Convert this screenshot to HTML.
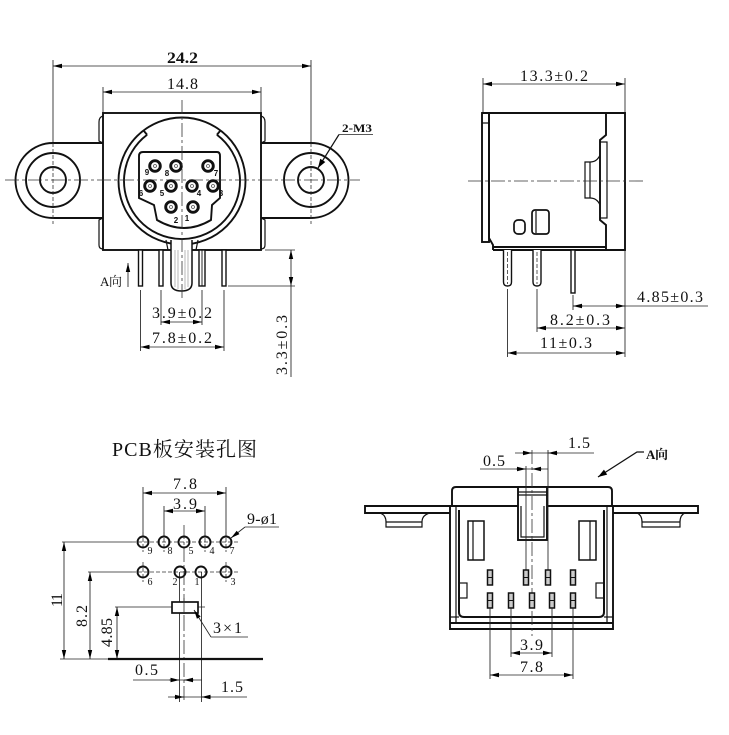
<!DOCTYPE html>
<html><head><meta charset="utf-8"><style>
html,body{margin:0;padding:0;background:#fff;}
svg{display:block;}
.o{fill:none;stroke:#111;stroke-width:1.9;}
.t1{fill:none;stroke:#111;stroke-width:1.2;}
.d{fill:none;stroke:#222;stroke-width:0.85;}
.c{fill:none;stroke:#333;stroke-width:0.8;stroke-dasharray:14 3 3 3;}
.s{fill:none;stroke:#333;stroke-width:0.8;stroke-dasharray:4 2;}
text{font-family:"Liberation Serif","Noto Serif CJK SC",serif;font-size:16px;fill:#111;}
.b{font-weight:bold;}
.pn{font-family:"Liberation Sans",sans-serif;font-size:8px;font-weight:bold;text-anchor:middle;}
.hn{font-size:10px;text-anchor:middle;}
</style></head><body>
<svg width="729" height="735" viewBox="0 0 729 735" xmlns="http://www.w3.org/2000/svg">
<defs>
<marker id="a" viewBox="-10 -3 10 6" refX="0" refY="0" markerWidth="10" markerHeight="6" markerUnits="userSpaceOnUse" orient="auto-start-reverse"><path d="M0,0 L-9,-2.2 L-9,2.2 z" fill="#000"/></marker>
<marker id="b" viewBox="-10 -4 10 8" refX="0" refY="0" markerWidth="10" markerHeight="8" markerUnits="userSpaceOnUse" orient="auto"><path d="M0,0 L-9,-3 L-9,3 z" fill="#000"/></marker>
</defs>

<!-- ================= TOP-LEFT VIEW ================= -->
<line class="d" x1="53" y1="60" x2="53" y2="143"/>
<line class="d" x1="311" y1="60" x2="311" y2="143"/>
<line class="d" x1="53" y1="66" x2="311" y2="66" marker-start="url(#a)" marker-end="url(#a)"/>
<text x="167" y="63" class="b" textLength="31" lengthAdjust="spacingAndGlyphs">24.2</text>
<line class="d" x1="103" y1="87" x2="103" y2="113"/>
<line class="d" x1="261" y1="87" x2="261" y2="113"/>
<line class="d" x1="103" y1="92" x2="261" y2="92" marker-start="url(#a)" marker-end="url(#a)"/>
<text x="167" y="89" textLength="31">14.8</text>

<g class="o">
<path d="M103,143 L53,143 A37.5,37.5 0 0 0 53,218 L103,218"/>
<path d="M261,143 L311,143 A37.5,37.5 0 0 1 311,218 L261,218"/>
<circle cx="53" cy="180" r="27"/><circle cx="53" cy="180" r="13"/>
<circle cx="311" cy="180" r="27"/><circle cx="311" cy="180" r="13"/>
<rect x="103" y="113" width="158" height="137"/>
<circle cx="182" cy="181" r="63.5"/>
<path d="M147.1,134.7 A58,58 0 1 0 216.9,134.7"/>
<path d="M147.1,134.7 L143.5,130.5 M216.9,134.7 L220.5,130.5"/>
<path d="M143,152 L217,152 Q220,152 220,156 L220,198 L212,205 L211,220 Q184,236 157,220 L154,205 L139,198 L139,156 Q139,152 143,152 Z"/>
</g>
<g class="t1">
<path d="M103,116 Q99,117 99,122 L99,141 L103,143"/>
<path d="M103,218 L99,220 L99,245 Q99,249 103,249"/>
<path d="M261,116 Q265,117 265,122 L265,141 L261,143"/>
<path d="M261,218 L265,220 L265,245 Q265,249 261,249"/>
</g>
<line class="c" x1="5" y1="180" x2="360" y2="180"/>
<line class="s" x1="53" y1="143" x2="53" y2="224"/>
<line class="s" x1="311" y1="143" x2="311" y2="224"/>

<!-- pins of face -->
<g fill="#fff" stroke="#111" stroke-width="2.9">
<circle cx="155" cy="166" r="5.3"/><circle cx="176" cy="166" r="5.3"/><circle cx="208" cy="166" r="5.3"/>
<circle cx="150" cy="186" r="5.3"/><circle cx="171" cy="186" r="5.3"/><circle cx="192" cy="186" r="5.3"/><circle cx="213" cy="186" r="5.3"/>
<circle cx="171" cy="207" r="5.3"/><circle cx="193" cy="207" r="5.3"/>
</g>
<g fill="none" stroke="#555" stroke-width="0.8">
<circle cx="155" cy="166" r="1.5"/><circle cx="176" cy="166" r="1.5"/><circle cx="208" cy="166" r="1.5"/>
<circle cx="150" cy="186" r="1.5"/><circle cx="171" cy="186" r="1.5"/><circle cx="192" cy="186" r="1.5"/><circle cx="213" cy="186" r="1.5"/>
<circle cx="171" cy="207" r="1.5"/><circle cx="193" cy="207" r="1.5"/>
</g>
<text class="pn" x="147" y="175">9</text><text class="pn" x="167" y="176">8</text><text class="pn" x="216" y="176">7</text>
<text class="pn" x="141" y="196">6</text><text class="pn" x="162" y="196">5</text><text class="pn" x="199" y="196">4</text><text class="pn" x="221" y="196">3</text>
<text class="pn" x="176" y="223">2</text><text class="pn" x="187" y="221">1</text>

<!-- post and pins -->
<path d="M171,240 L171,283 Q171,291 181.5,291 Q192,291 192,283 L192,240" fill="#fff" stroke="#111" stroke-width="1.5"/>
<path class="t1" d="M166,240 L168,250 M198,240 L196,250"/>
<g stroke="#888" stroke-width="0.6"><line x1="175" y1="250" x2="175" y2="287"/><line x1="178" y1="250" x2="178" y2="289"/><line x1="185" y1="250" x2="185" y2="289"/><line x1="188" y1="250" x2="188" y2="287"/></g>
<line class="c" x1="182" y1="100" x2="182" y2="300"/>
<g fill="#fff" stroke="#111" stroke-width="1.4">
<rect x="138.5" y="250" width="4" height="36"/>
<rect x="159" y="250" width="4" height="36"/>
<rect x="199" y="250" width="6" height="36"/>
<rect x="222" y="250" width="4" height="36"/>
</g>
<line x1="202" y1="250" x2="202" y2="286" stroke="#111" stroke-width="0.9"/>

<!-- A dir arrow -->
<text x="100" y="286" style="font-size:13px" textLength="22">A向</text>
<line class="d" x1="128" y1="287" x2="128" y2="263" marker-end="url(#a)"/>

<!-- bottom dims -->
<line class="d" x1="140.5" y1="290" x2="140.5" y2="351"/>
<line class="d" x1="224" y1="290" x2="224" y2="351"/>
<line class="d" x1="161" y1="290" x2="161" y2="325"/>
<line class="d" x1="202" y1="290" x2="202" y2="325"/>
<line class="d" x1="161" y1="322" x2="202" y2="322" marker-start="url(#a)" marker-end="url(#a)"/>
<line class="d" x1="140.5" y1="347" x2="224" y2="347" marker-start="url(#a)" marker-end="url(#a)"/>
<text x="152" y="318" textLength="60">3.9±0.2</text>
<text x="152" y="343" textLength="60">7.8±0.2</text>

<line class="d" x1="265" y1="250" x2="295" y2="250"/>
<line class="d" x1="228" y1="286" x2="295" y2="286"/>
<line class="d" x1="291" y1="250" x2="291" y2="286" marker-start="url(#a)" marker-end="url(#a)"/>
<line class="d" x1="291" y1="286" x2="291" y2="377"/>
<text transform="translate(287,375) rotate(-90)" textLength="60">3.3±0.3</text>

<!-- 2-M3 -->
<text x="342" y="132" class="b" style="font-size:12px" textLength="30" lengthAdjust="spacingAndGlyphs">2-M3</text>
<line class="d" x1="339" y1="134.5" x2="373" y2="134.5"/>
<line x1="339" y1="134.5" x2="318" y2="168" stroke="#111" stroke-width="1.2" marker-end="url(#b)"/>

<!-- ================= TOP-RIGHT VIEW ================= -->
<line class="d" x1="483" y1="78" x2="483" y2="113"/>
<line class="d" x1="625" y1="78" x2="625" y2="113"/>
<line class="d" x1="483" y1="84" x2="625" y2="84" marker-start="url(#a)" marker-end="url(#a)"/>
<text x="520" y="81" textLength="68">13.3±0.2</text>

<g class="o">
<path d="M482,113 L625,113 L625,250 L493,250"/>
<rect x="482" y="113" width="7" height="129"/>
<path d="M489,113 L489,238 L493,245 L493,250"/>
<line x1="493" y1="247" x2="606" y2="247"/>
<path d="M606,113 L606,135 L600,140 L600,220 L606,225 L606,250"/>
</g>
<g class="t1">
<line x1="482" y1="123" x2="489" y2="123"/>
<rect x="600" y="142" width="7" height="76"/>
<path d="M600,155 Q597,162 590,162 L585,162 L585,198 L590,198 Q597,198 600,205"/>
<line x1="590" y1="162" x2="590" y2="198"/>
<rect x="532" y="210" width="17" height="24" rx="3" stroke-width="1.7"/>
<line x1="536" y1="211" x2="536" y2="233"/>
<rect x="514" y="220" width="11" height="14" rx="4" stroke-width="1.7"/>
</g>
<line class="c" x1="468" y1="181" x2="643" y2="181"/>
<g fill="#fff" stroke="#111" stroke-width="1.4">
<path d="M503.5,250 L503.5,282 Q503.5,286 507.5,286 Q511.5,286 511.5,282 L511.5,250"/>
<path d="M533,250 L533,282 Q533,286 537,286 Q541,286 541,282 L541,250"/>
<rect x="571" y="250" width="4" height="43"/>
</g>
<line class="s" x1="507.5" y1="252" x2="507.5" y2="284"/>
<line class="s" x1="537" y1="252" x2="537" y2="284"/>
<line class="d" x1="625" y1="250" x2="625" y2="357"/>
<line class="d" x1="573" y1="295" x2="573" y2="310"/>
<line class="d" x1="537" y1="289" x2="537" y2="332"/>
<line class="d" x1="507.5" y1="289" x2="507.5" y2="357"/>
<line class="d" x1="573" y1="306" x2="708" y2="306"/>
<path class="d" d="M583,306 L573,306" marker-end="url(#a)"/>
<path class="d" d="M615,306 L625,306" marker-end="url(#a)"/>
<text x="637" y="302" textLength="66">4.85±0.3</text>
<line class="d" x1="537" y1="328" x2="625" y2="328" marker-start="url(#a)" marker-end="url(#a)"/>
<text x="550" y="325" textLength="60">8.2±0.3</text>
<line class="d" x1="507.5" y1="353" x2="625" y2="353" marker-start="url(#a)" marker-end="url(#a)"/>
<text x="540" y="348" textLength="52">11±0.3</text>

<!-- ================= PCB VIEW ================= -->
<text x="112" y="456" style="font-size:20px" textLength="145">PCB板安装孔图</text>
<line class="d" x1="143" y1="487" x2="143" y2="536"/>
<line class="d" x1="226" y1="487" x2="226" y2="536"/>
<line class="d" x1="164" y1="506" x2="164" y2="536"/>
<line class="d" x1="205" y1="506" x2="205" y2="536"/>
<line class="d" x1="143" y1="493" x2="226" y2="493" marker-start="url(#a)" marker-end="url(#a)"/>
<line class="d" x1="164" y1="511" x2="205" y2="511" marker-start="url(#a)" marker-end="url(#a)"/>
<text x="173" y="489" textLength="24">7.8</text>
<text x="173" y="509" textLength="24">3.9</text>

<line class="d" x1="62" y1="542" x2="132" y2="542"/>
<line class="s" x1="132" y1="542" x2="240" y2="542"/>
<line class="d" x1="88" y1="572" x2="132" y2="572"/>
<line class="s" x1="132" y1="572" x2="240" y2="572"/>
<g class="s">
<line x1="143" y1="532" x2="143" y2="552"/><line x1="164" y1="532" x2="164" y2="552"/><line x1="205" y1="532" x2="205" y2="552"/><line x1="226" y1="532" x2="226" y2="552"/>
<line x1="143" y1="562" x2="143" y2="582"/><line x1="226" y1="562" x2="226" y2="582"/>
</g>
<line class="c" x1="184" y1="525" x2="184" y2="702"/>
<line class="d" x1="179.5" y1="572" x2="179.5" y2="702"/>
<line class="d" x1="201.5" y1="572" x2="201.5" y2="702"/>
<g fill="none" stroke="#111" stroke-width="1.9">
<circle cx="143" cy="542" r="5.5"/><circle cx="164" cy="542" r="5.5"/><circle cx="184" cy="542" r="5.5"/><circle cx="205" cy="542" r="5.5"/><circle cx="226" cy="542" r="5.5"/>
<circle cx="143" cy="572" r="5.5"/><circle cx="180" cy="572" r="5.5"/><circle cx="201" cy="572" r="5.5"/><circle cx="226" cy="572" r="5.5"/>
</g>
<text class="hn" x="150" y="554">9</text><text class="hn" x="170" y="554">8</text><text class="hn" x="191" y="554">5</text><text class="hn" x="212" y="554">4</text><text class="hn" x="232" y="554">7</text>
<text class="hn" x="150" y="585">6</text><text class="hn" x="175" y="585">2</text><text class="hn" x="197" y="585">1</text><text class="hn" x="233" y="585">3</text>

<text x="247" y="524" textLength="30">9-ø1</text>
<line class="d" x1="245" y1="527" x2="279" y2="527"/>
<line class="d" x1="245" y1="527" x2="231" y2="538" marker-end="url(#a)"/>

<line class="d" x1="115" y1="607" x2="205" y2="607"/>
<rect x="172" y="602" width="26" height="11" fill="#fff" stroke="#111" stroke-width="1.7"/>
<line class="c" x1="184" y1="598" x2="184" y2="617"/>
<text x="213" y="633" textLength="29">3×1</text>
<line class="d" x1="211" y1="637" x2="248" y2="637"/>
<line class="d" x1="211" y1="637" x2="194" y2="610" marker-end="url(#a)"/>

<line x1="108" y1="659" x2="263" y2="659" stroke="#111" stroke-width="2.2"/>
<line class="d" x1="60" y1="659" x2="108" y2="659"/>
<line class="d" x1="64" y1="542" x2="64" y2="659" marker-start="url(#a)" marker-end="url(#a)"/>
<line class="d" x1="90" y1="572" x2="90" y2="659" marker-start="url(#a)" marker-end="url(#a)"/>
<line class="d" x1="117" y1="607" x2="117" y2="659" marker-start="url(#a)" marker-end="url(#a)"/>
<text transform="translate(62,607) rotate(-90)" textLength="14">11</text>
<text transform="translate(87,627) rotate(-90)" textLength="22">8.2</text>
<text transform="translate(112,647) rotate(-90)" textLength="29">4.85</text>

<line class="d" x1="133" y1="680" x2="202" y2="680"/>
<path class="d" d="M169,680 L179.5,680" marker-end="url(#a)"/>
<path class="d" d="M194,680 L184,680" marker-end="url(#a)"/>
<text x="135" y="675" textLength="23">0.5</text>
<line class="d" x1="168" y1="697" x2="247" y2="697"/>
<path class="d" d="M174,697 L184,697" marker-end="url(#a)"/>
<path class="d" d="M211,697 L201.5,697" marker-end="url(#a)"/>
<text x="221" y="692" textLength="22">1.5</text>

<!-- ================= BOTTOM-RIGHT VIEW ================= -->
<text x="646" y="459" class="b" style="font-size:13px" textLength="22">A向</text>
<path d="M644,452 L637,452 L598,477" fill="none" stroke="#111" stroke-width="1.3" marker-end="url(#b)"/>

<line class="d" x1="515" y1="453" x2="594" y2="453"/>
<path class="d" d="M522,453 L532,453" marker-end="url(#a)"/>
<path class="d" d="M558,453 L548,453" marker-end="url(#a)"/>
<text x="568" y="448" textLength="22">1.5</text>
<line class="d" x1="480" y1="469" x2="548" y2="469"/>
<path class="d" d="M516,469 L526,469" marker-end="url(#a)"/>
<path class="d" d="M542,469 L532,469" marker-end="url(#a)"/>
<text x="483" y="466" textLength="22">0.5</text>

<g class="o">
<path d="M452,506 L452,491 Q452,487 456,487 L608,487 Q612,487 612,491 L612,506"/>
<path d="M450,506 L365,506 L365,513 L450,513"/>
<path d="M613,506 L698,506 L698,513 L613,513"/>
<path d="M450,506 L450,629 L613,629 L613,506"/>
<line x1="450" y1="506" x2="613" y2="506"/>
<line x1="450" y1="623" x2="613" y2="623"/>
</g>
<g class="t1">
<path d="M380,513 Q386,515 386,522 L386,527 L422,527 L422,522 Q422,515 430,513"/>
<line x1="386" y1="522" x2="422" y2="522"/>
<path d="M637,513 Q642,515 642,522 L642,527 L680,527 L680,522 Q680,515 685,513"/>
<line x1="642" y1="522" x2="680" y2="522"/>
<line x1="456" y1="506" x2="456" y2="623"/>
<line x1="607" y1="506" x2="607" y2="623"/>
<path d="M459,510 L459,612 Q459,617 464,617 L599,617 Q604,617 604,612 L604,510" stroke-width="2"/>
<line x1="450" y1="617" x2="459" y2="617"/>
<line x1="604" y1="617" x2="613" y2="617"/>
<rect x="468" y="521" width="16" height="39" stroke-width="1.5"/><line x1="473" y1="521" x2="473" y2="560"/>
<rect x="579" y="521" width="17" height="39" stroke-width="1.5"/><line x1="590" y1="521" x2="590" y2="560"/>
<rect x="459" y="583" width="8" height="15"/>
<rect x="596" y="583" width="8" height="15"/>
</g>
<rect x="518" y="487" width="29" height="53" fill="#fff" stroke="#111" stroke-width="1.9"/>
<line class="t1" x1="518" y1="492" x2="547" y2="492"/>
<line class="t1" x1="518" y1="495" x2="547" y2="495"/>
<path class="t1" d="M521,506 L521,537 L544,537 L544,506"/>

<line class="d" x1="526" y1="466" x2="526" y2="570"/>
<line class="d" x1="548" y1="450" x2="548" y2="570"/>
<line class="c" x1="532" y1="450" x2="532" y2="636"/>

<g fill="#ccc" stroke="#111" stroke-width="1.5">
<rect x="487.5" y="570" width="5" height="15"/><rect x="523.5" y="570" width="5" height="15"/><rect x="545.5" y="570" width="5" height="15"/><rect x="570.5" y="570" width="5" height="15"/>
<rect x="487.5" y="593" width="5" height="15"/><rect x="508.5" y="593" width="5" height="15"/><rect x="529.5" y="593" width="5" height="15"/><rect x="549.5" y="593" width="5" height="15"/><rect x="570.5" y="593" width="5" height="15"/>
</g>
<g stroke="#111" stroke-width="1">
<line x1="487.5" y1="577.5" x2="492.5" y2="577.5"/><line x1="523.5" y1="577.5" x2="528.5" y2="577.5"/><line x1="545.5" y1="577.5" x2="550.5" y2="577.5"/><line x1="570.5" y1="577.5" x2="575.5" y2="577.5"/>
<line x1="487.5" y1="600.5" x2="492.5" y2="600.5"/><line x1="508.5" y1="600.5" x2="513.5" y2="600.5"/><line x1="529.5" y1="600.5" x2="534.5" y2="600.5"/><line x1="549.5" y1="600.5" x2="554.5" y2="600.5"/><line x1="570.5" y1="600.5" x2="575.5" y2="600.5"/>
</g>

<line class="d" x1="490" y1="608" x2="490" y2="679"/>
<line class="d" x1="573" y1="608" x2="573" y2="679"/>
<line class="d" x1="511" y1="608" x2="511" y2="657"/>
<line class="d" x1="552" y1="608" x2="552" y2="657"/>
<line class="d" x1="511" y1="653" x2="552" y2="653" marker-start="url(#a)" marker-end="url(#a)"/>
<line class="d" x1="490" y1="675" x2="573" y2="675" marker-start="url(#a)" marker-end="url(#a)"/>
<text x="520" y="650" textLength="23">3.9</text>
<text x="520" y="672" textLength="23">7.8</text>
</svg>
</body></html>
